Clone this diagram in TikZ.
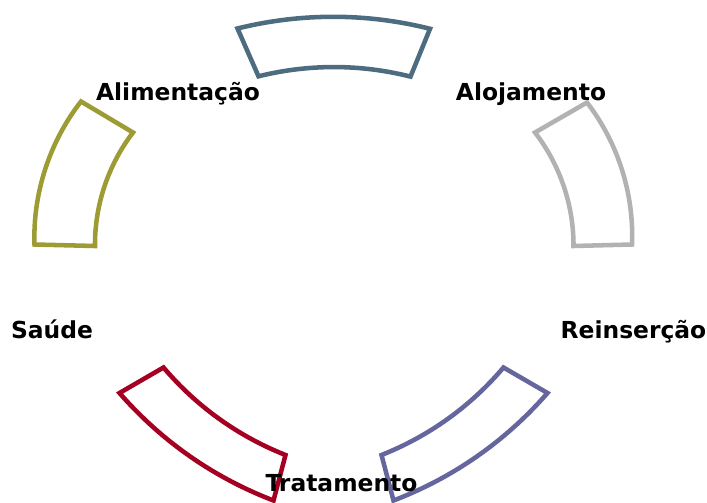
\documentclass[tikz,border=0pt]{standalone}
\usepackage{fontspec}
\setmainfont{DejaVu Sans}
\definecolor{topc}{RGB}{78,108,128}
\definecolor{rightc}{RGB}{178,178,178}
\definecolor{leftc}{RGB}{157,155,52}
\definecolor{redc}{RGB}{165,0,33}
\definecolor{purc}{RGB}{102,102,158}
\begin{document}
\begin{tikzpicture}[x=0.75pt,y=-0.75pt,
  sector/.style={line width=3.4pt, line join=miter, fill=white},
  ob/.style={bend left=#1, looseness=0.87},
  ib/.style={bend right=#1, looseness=0.87},
  lbl/.style={font=\fontsize{17.55}{20}\selectfont\bfseries, anchor=base, inner sep=0pt}]
\useasboundingbox (0,0) rectangle (707,503);
% top sector
\coordinate (t1) at (237.5,28.5);
\coordinate (t2) at (430,28.8);
\coordinate (t3) at (410.5,76.6);
\coordinate (t4) at (258.5,76.3);
% right sector
\coordinate (r1) at (587,102.5);
\coordinate (r2) at (632,244.5);
\coordinate (r3) at (573.5,246);
\coordinate (r4) at (535,132.5);
% left sector
\coordinate (l1) at (34.5,244.5);
\coordinate (l2) at (81,101.5);
\coordinate (l3) at (133,132.5);
\coordinate (l4) at (95,246);
% bottom-right sector
\coordinate (p1) at (547.5,393);
\coordinate (p2) at (393.5,500.5);
\coordinate (p3) at (381.5,455);
\coordinate (p4) at (503.5,367.5);
% bottom-left sector
\coordinate (d1) at (273.5,500.5);
\coordinate (d2) at (119.5,393);
\coordinate (d3) at (163.5,367.5);
\coordinate (d4) at (285.5,455);

\draw[sector, draw=topc] (t1) to[ob=14] (t2) -- (t3) to[ib=14] (t4) -- cycle;
\draw[sector, draw=rightc] (r1) to[ob=20] (r2) -- (r3) to[ib=19] (r4) -- cycle;
\draw[sector, draw=leftc] (l1) to[ob=20] (l2) -- (l3) to[ib=19] (l4) -- cycle;
\draw[sector, draw=purc] (p1) to[ob=14] (p2) -- (p3) to[ib=14] (p4) -- cycle;
\draw[sector, draw=redc] (d1) to[ob=14] (d2) -- (d3) to[ib=14] (d4) -- cycle;

\node[lbl] (alim) at (178,101) {Alimentação};
\node[lbl] (aloj) at (531,101) {Alojamento};
\node[lbl] (saude) at (52,338.5) {Saúde};
\node[lbl] (reins) at (633.5,338.5) {Reinserção};
\node[lbl] (trat) at (341.5,491) {Tratamento};
\end{tikzpicture}
\end{document}
